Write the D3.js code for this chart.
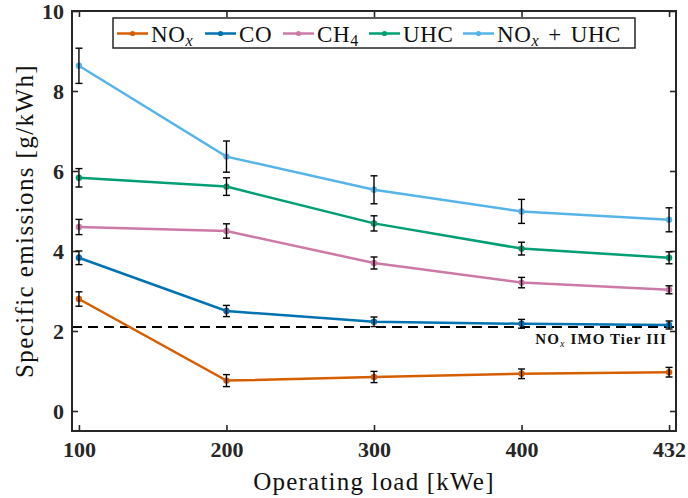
<!DOCTYPE html>
<html>
<head>
<meta charset="utf-8">
<script src="https://cdn.jsdelivr.net/npm/d3@7"></script>
<style>
body { margin: 0; background: #fff; }
text { font-family: "Liberation Serif", "DejaVu Serif", serif; }
</style>
</head>
<body>
<script>
// operating load categories (equally spaced on the axis)
var loads = ["100", "200", "300", "400", "432"];

// specific emissions [g/kWh] and error bar half widths
var noxVals = [2.80, 0.76, 0.85, 0.93, 0.97];
var noxErr  = [0.18, 0.15, 0.14, 0.12, 0.12];
var coVals  = [3.83, 2.50, 2.23, 2.18, 2.15];
var coErr   = [0.17, 0.14, 0.12, 0.11, 0.10];
var ch4Vals = [4.60, 4.50, 3.70, 3.21, 3.03];
var ch4Err  = [0.19, 0.18, 0.15, 0.13, 0.10];
var uhcVals = [5.83, 5.61, 4.69, 4.06, 3.83];
var uhcErr  = [0.23, 0.22, 0.19, 0.16, 0.15];
var sumVals = [8.63, 6.36, 5.53, 4.99, 4.78];
var sumErr  = [0.44, 0.39, 0.35, 0.30, 0.30];

var yTicks = [0, 2, 4, 6, 8, 10];
var imoLimit = 2.1;

var series = [
    {name: "NOx", vals: noxVals, err: noxErr, color: "#D55E00"},
    {name: "CO", vals: coVals, err: coErr, color: "#0072B2"},
    {name: "CH4", vals: ch4Vals, err: ch4Err, color: "#CC79A7"},
    {name: "UHC", vals: uhcVals, err: uhcErr, color: "#009E73"},
    {name: "NOx + UHC", vals: sumVals, err: sumErr, color: "#56B4E9"}
];

var margin = {top: 11, right: 12, bottom: 67, left: 72},
    width = 688 - margin.left - margin.right,
    height = 498 - margin.top - margin.bottom;

var svg = d3.select("body").append("svg")
    .attr("width", 688)
    .attr("height", 498);

var g = svg.append("g")
    .attr("transform", "translate(" + margin.left + "," + margin.top + ")");

var x = d3.scalePoint()
    .domain(loads)
    .range([0, width])
    .padding(0.047);

var y = d3.scaleLinear()
    .domain([-0.5, 10])
    .range([height, 0]);

var axisColor = "#262626";

// axes, ticks pointing inwards on all four sides
g.append("g")
    .attr("transform", "translate(0," + height + ")")
    .call(d3.axisBottom(x).tickSizeInner(-6).tickSizeOuter(0).tickPadding(10));
g.append("g")
    .call(d3.axisLeft(y).tickValues(yTicks).tickSizeInner(-6).tickSizeOuter(0).tickPadding(8));
g.append("g")
    .call(d3.axisTop(x).tickSizeInner(-6).tickSizeOuter(0).tickFormat(""));
g.append("g")
    .attr("transform", "translate(" + width + ",0)")
    .call(d3.axisRight(y).tickValues(yTicks).tickSizeInner(-6).tickSizeOuter(0).tickFormat(""));

g.selectAll(".domain").remove();
g.selectAll(".tick line").attr("stroke", axisColor).attr("stroke-width", 1.6);
g.selectAll(".tick text")
    .attr("fill", axisColor)
    .style("font-size", "22px")
    .style("font-weight", "bold")
    .style("font-family", "'Liberation Serif', serif");

// IMO Tier III limit
g.append("line")
    .attr("x1", 0).attr("x2", width)
    .attr("y1", y(imoLimit)).attr("y2", y(imoLimit))
    .attr("stroke", "#000")
    .attr("stroke-width", 2)
    .attr("stroke-dasharray", "10,6");

var imoText = g.append("text")
    .attr("x", width - 9)
    .attr("y", y(imoLimit) + 17)
    .attr("text-anchor", "end")
    .style("font-size", "15px")
    .style("font-weight", "bold")
    .style("letter-spacing", "1.1px")
    .attr("fill", "#111");
imoText.append("tspan").text("NO");
imoText.append("tspan").text("x").attr("font-style", "italic").attr("font-weight", "normal")
    .attr("font-size", "10px").attr("dy", 3);
imoText.append("tspan").text(" IMO Tier III").attr("dy", -3);

var line = d3.line()
    .x(function(d, i) { return x(loads[i]); })
    .y(function(d) { return y(d); });

// series: line, markers, error bars
series.forEach(function(s) {
    g.append("path")
        .datum(s.vals)
        .attr("fill", "none")
        .attr("stroke", s.color)
        .attr("stroke-width", 2.5)
        .attr("d", line);

    g.selectAll(null)
        .data(s.vals)
        .enter().append("circle")
        .attr("cx", function(d, i) { return x(loads[i]); })
        .attr("cy", function(d) { return y(d); })
        .attr("r", 3.2)
        .attr("fill", s.color);

    var eb = g.selectAll(null)
        .data(s.vals)
        .enter().append("g")
        .attr("stroke", "#000")
        .attr("stroke-width", 1.4);
    eb.append("line")
        .attr("x1", function(d, i) { return x(loads[i]); })
        .attr("x2", function(d, i) { return x(loads[i]); })
        .attr("y1", function(d, i) { return y(d + s.err[i]); })
        .attr("y2", function(d, i) { return y(d - s.err[i]); });
    eb.append("line")
        .attr("x1", function(d, i) { return x(loads[i]) - 3.5; })
        .attr("x2", function(d, i) { return x(loads[i]) + 3.5; })
        .attr("y1", function(d, i) { return y(d + s.err[i]); })
        .attr("y2", function(d, i) { return y(d + s.err[i]); });
    eb.append("line")
        .attr("x1", function(d, i) { return x(loads[i]) - 3.5; })
        .attr("x2", function(d, i) { return x(loads[i]) + 3.5; })
        .attr("y1", function(d, i) { return y(d - s.err[i]); })
        .attr("y2", function(d, i) { return y(d - s.err[i]); });
});

// plot frame
g.append("rect")
    .attr("width", width)
    .attr("height", height)
    .attr("fill", "none")
    .attr("stroke", axisColor)
    .attr("stroke-width", 2);

// legend
var legendX = [117, 205, 283, 369, 463];
var legend = svg.append("g");
legend.append("rect")
    .attr("x", 113).attr("y", 18)
    .attr("width", 522).attr("height", 30)
    .attr("fill", "#fff")
    .attr("stroke", axisColor)
    .attr("stroke-width", 1.5);

series.forEach(function(s, i) {
    var lx = legendX[i];
    legend.append("line")
        .attr("x1", lx).attr("x2", lx + 31)
        .attr("y1", 33.5).attr("y2", 33.5)
        .attr("stroke", s.color)
        .attr("stroke-width", 2.5);
    legend.append("circle")
        .attr("cx", lx + 15.5).attr("cy", 33.5)
        .attr("r", 2.6)
        .attr("fill", s.color);
    var t = legend.append("text")
        .attr("x", lx + 34)
        .attr("y", 41.5)
        .style("font-size", "23px")
        .style("letter-spacing", "0.6px")
        .attr("fill", "#111");
    if (s.name == "NOx") {
        t.append("tspan").text("NO");
        t.append("tspan").text("x").attr("font-style", "italic").attr("font-size", "16px").attr("dy", 4);
    } else if (s.name == "CH4") {
        t.append("tspan").text("CH");
        t.append("tspan").text("4").attr("font-size", "16px").attr("dy", 4);
    } else if (s.name == "NOx + UHC") {
        t.append("tspan").text("NO");
        t.append("tspan").text("x").attr("font-style", "italic").attr("font-size", "16px").attr("dy", 4);
        t.append("tspan").text("+").attr("dy", -4).attr("dx", 9);
        t.append("tspan").text("UHC").attr("dx", 9);
    } else {
        t.text(s.name);
    }
});

// axis labels
svg.append("text")
    .attr("x", margin.left + width / 2)
    .attr("y", 490)
    .attr("text-anchor", "middle")
    .style("font-size", "25px")
    .style("letter-spacing", "1.2px")
    .attr("fill", "#111")
    .text("Operating load [kWe]");

svg.append("text")
    .attr("transform", "translate(33," + (margin.top + height / 2) + ") rotate(-90)")
    .attr("text-anchor", "middle")
    .style("font-size", "25px")
    .style("letter-spacing", "1.4px")
    .attr("fill", "#111")
    .text("Specific emissions [g/kWh]");
</script>
</body>
</html>
